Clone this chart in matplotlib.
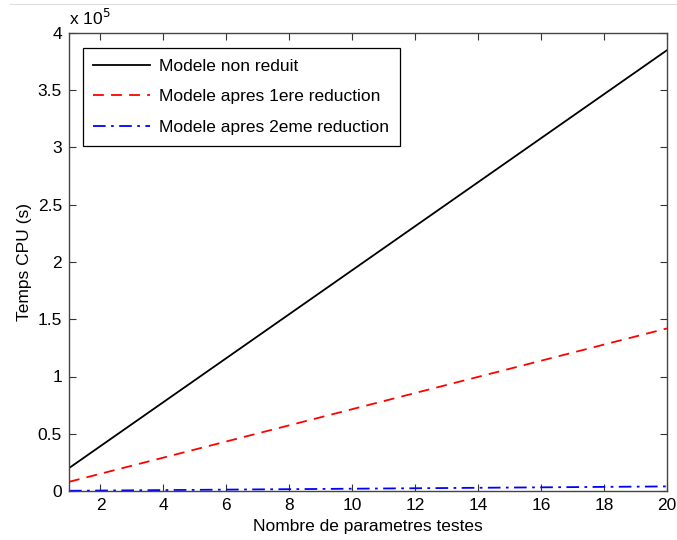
import matplotlib
matplotlib.use('Agg')
import matplotlib.pyplot as plt
from matplotlib.ticker import FuncFormatter

plt.rcParams['font.family'] = 'Liberation Sans'
plt.rcParams['font.size'] = 12.5

# endpoints (lines are straight)
nb_params = [1, 20]
cpu_non_reduit = [0.20e5, 3.85e5]
cpu_reduc1 = [0.08e5, 1.42e5]
cpu_reduc2 = [0.002e5, 0.04e5]

fig = plt.figure(figsize=(6.77, 5.40), dpi=100)
ax = fig.add_axes([69/677, 1 - 491/540, (667 - 69)/677, (491 - 33)/540])

ax.plot(nb_params, cpu_non_reduit, color='black', lw=1.3, label='Modele non reduit')
ax.plot(nb_params, cpu_reduc1, color='red', lw=1.3, ls=(0, (6, 4)), label='Modele apres 1ere reduction')
ax.plot(nb_params, cpu_reduc2, color='blue', lw=1.3, ls=(0, (7, 3, 1.5, 3)), label='Modele apres 2eme reduction')

ax.set_xlim(1, 20)
ax.set_ylim(0, 4e5)
ax.set_xticks(range(2, 21, 2))
ax.set_yticks([i * 0.5e5 for i in range(9)])
ax.yaxis.set_major_formatter(FuncFormatter(lambda v, p: f'{v/1e5:g}'))
ax.tick_params(direction='in', top=True, right=True, length=5, color='#333333', pad=5)
for s in ax.spines.values():
    s.set_color('#444444')
    s.set_linewidth(1.0)

ax.text(0, 1.012, r'x 10$^5$', transform=ax.transAxes, ha='left', va='bottom', fontsize=12.5)
ax.set_xlabel('Nombre de parametres testes', labelpad=4)
ax.set_ylabel('Temps CPU (s)', labelpad=4)

leg = ax.legend(loc='upper left', bbox_to_anchor=(0.023, 0.967), borderaxespad=0,
                fancybox=False, edgecolor='black', framealpha=1, handlelength=3.3,
                handletextpad=0.5, borderpad=0.6, labelspacing=0.9, fontsize=12.5)
leg.get_frame().set_linewidth(0.9)

fig.add_artist(plt.Line2D([10/677, 1], [1 - 4/540, 1 - 4/540], color='#dddddd', lw=0.8))

fig.savefig('out.png', dpi=100)
